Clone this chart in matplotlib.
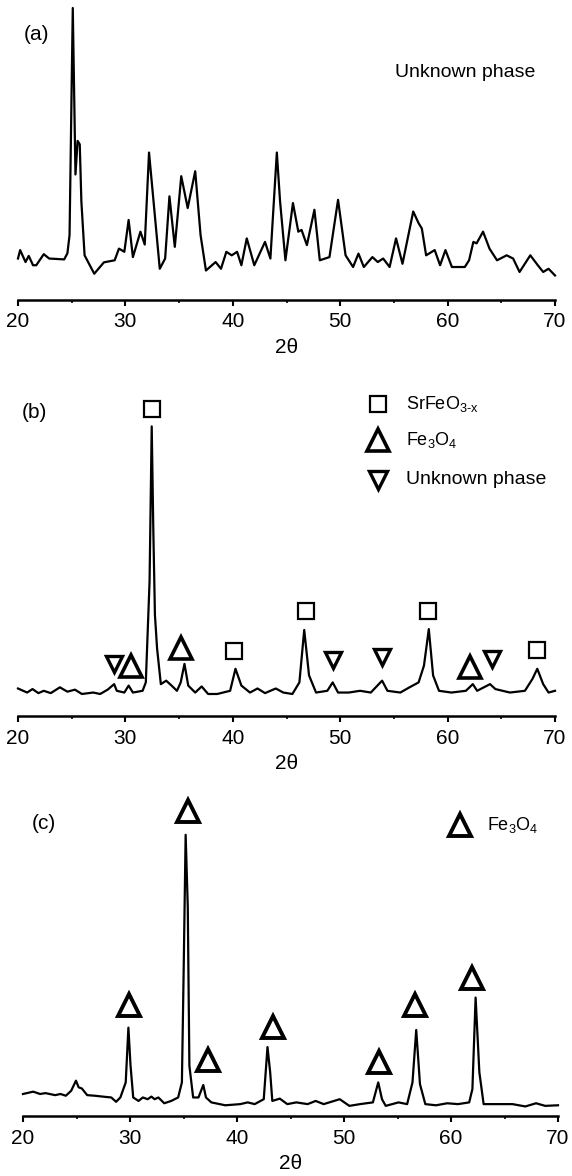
import matplotlib
matplotlib.use("Agg")
import matplotlib.pyplot as plt

plt.rcParams['font.family'] = ['Liberation Sans', 'DejaVu Sans']
plt.rcParams['mathtext.fontset'] = 'custom'
plt.rcParams['mathtext.rm'] = 'Liberation Sans'
plt.rcParams['mathtext.it'] = 'Liberation Sans:italic'

# ---------------- data ----------------
a_tt = [20.0, 20.2, 20.7, 21.0, 21.4, 21.7, 22.4, 22.9, 24.3, 24.6, 24.8, 25.1, 25.35, 25.55, 25.75,
        25.9, 26.2, 27.1, 28.0, 29.0, 29.4, 29.9, 30.3, 30.7, 31.4, 31.8, 32.2, 33.2, 33.7, 34.1,
        34.6, 35.2, 35.8, 36.5, 37.0, 37.5, 38.4, 38.9, 39.4, 39.9, 40.4, 40.8, 41.3, 42.0, 43.0,
        43.5, 44.1, 44.4, 44.9, 45.6, 46.1, 46.4, 46.9, 47.6, 48.1, 49.0, 49.8, 50.5, 51.2, 51.7,
        52.2, 53.0, 53.5, 54.0, 54.6, 55.2, 55.8, 56.8, 57.3, 57.6, 58.0, 58.8, 59.3, 59.8, 60.4,
        61.6, 62.0, 62.4, 62.7, 63.3, 63.9, 64.6, 65.5, 66.1, 66.7, 67.7, 68.4, 68.9, 69.4, 70.0]
a_int = [14.2, 17.1, 13.0, 15.1, 11.9, 11.9, 15.7, 14.2, 13.9, 16.0, 22.2, 100.0, 43.0, 54.5, 53.3,
         33.8, 15.3, 9.0, 12.9, 13.6, 17.6, 16.5, 27.4, 14.7, 23.4, 19.0, 50.5, 10.7, 14.2, 35.5,
         18.2, 42.4, 31.5, 44.1, 22.2, 10.1, 13.0, 10.7, 16.5, 15.3, 16.5, 11.9, 21.1, 11.9, 19.9,
         14.2, 50.5, 33.8, 13.6, 33.2, 23.4, 24.0, 18.8, 30.9, 13.6, 14.7, 34.3, 15.3, 11.3, 15.9,
         11.3, 14.7, 13.0, 14.2, 11.3, 21.1, 12.4, 30.3, 26.3, 24.5, 15.3, 17.1, 11.9, 17.1, 11.3,
         11.3, 13.6, 19.9, 19.4, 23.4, 17.6, 13.6, 15.3, 14.2, 9.6, 15.3, 11.9, 9.6, 10.7, 8.4]

b_tt = [20.0, 20.85, 21.35, 21.9, 22.4, 23.05, 23.9, 24.6, 25.3, 25.95, 27.0, 27.65, 28.35, 28.95,
        29.2, 29.9, 30.3, 30.7, 31.6, 31.9, 32.25, 32.45, 32.6, 32.75, 32.95, 33.3, 33.8, 34.3,
        34.8, 35.15, 35.5, 35.85, 36.5, 37.1, 37.7, 38.55, 39.75, 40.25, 40.8, 41.6, 42.3, 43.0,
        44.0, 44.7, 45.55, 46.2, 46.65, 47.1, 47.75, 48.8, 49.3, 49.8, 50.8, 51.85, 52.85, 53.9,
        54.4, 55.6, 56.45, 57.3, 57.8, 58.25, 58.65, 59.2, 60.35, 61.7, 62.35, 62.75, 63.95, 64.45,
        65.8, 67.2, 67.9, 68.35, 68.9, 69.4, 70.0]
b_int = [9.5, 8.1, 9.3, 7.9, 8.7, 7.9, 9.9, 8.4, 9.1, 7.6, 8.1, 7.6, 9.1, 11.0,
         8.7, 8.1, 10.5, 8.1, 8.7, 11.6, 46.5, 100.0, 64.0, 34.9, 23.3, 11.0, 12.2, 10.5,
         8.7, 11.6, 18.0, 10.5, 8.1, 10.2, 7.6, 7.6, 8.7, 16.3, 10.5, 8.1, 9.5, 7.9,
         9.5, 8.1, 7.6, 11.6, 29.7, 14.0, 8.1, 8.7, 11.6, 8.1, 8.1, 8.7, 8.1, 12.2,
         8.7, 8.1, 9.9, 11.6, 17.4, 30.0, 14.0, 8.7, 8.1, 8.7, 11.0, 8.7, 11.0, 9.3,
         8.1, 8.7, 12.8, 16.3, 11.0, 8.1, 8.7]

c_tt = [20.0, 20.95, 21.6, 22.1, 23.0, 23.5, 24.0, 24.5, 24.95, 25.2, 25.5, 26.0, 26.7, 27.7,
        28.25, 28.7, 29.1, 29.6, 29.85, 30.05, 30.3, 30.8, 31.2, 31.65, 32.0, 32.3, 32.65, 33.2,
        33.85, 34.5, 34.85, 35.0, 35.2, 35.4, 35.55, 35.9, 36.4, 36.85, 37.1, 37.6, 38.9, 40.3,
        41.0, 41.65, 42.5, 42.85, 43.1, 43.3, 44.0, 44.7, 45.55, 46.6, 47.35, 48.1, 49.6, 50.5,
        51.5, 52.7, 53.2, 53.55, 53.9, 55.1, 55.9, 56.4, 56.75, 57.1, 57.6, 58.6, 59.65, 60.65,
        61.7, 62.0, 62.3, 62.65, 63.05, 64.4, 65.75, 66.95, 67.95, 68.8, 70.0]
c_int = [7.6, 8.4, 7.6, 7.9, 7.2, 7.6, 7.0, 8.7, 12.2, 9.9, 9.5, 7.2, 7.0, 6.6,
         6.4, 4.9, 6.4, 11.6, 30.5, 17.4, 6.4, 5.2, 6.4, 5.8, 6.7, 5.8, 6.4, 4.4,
         5.2, 6.4, 11.6, 46.5, 97.1, 72.1, 17.4, 6.4, 6.4, 10.7, 6.4, 4.7, 3.7, 4.1,
         4.7, 4.1, 5.8, 23.8, 15.1, 5.2, 6.0, 4.1, 4.7, 4.1, 5.2, 4.1, 5.8, 3.5,
         4.1, 4.7, 11.6, 5.8, 3.5, 4.7, 4.1, 11.6, 29.7, 11.0, 4.1, 3.7, 4.4, 4.1,
         4.7, 9.3, 40.9, 15.1, 4.1, 4.1, 4.1, 3.3, 4.4, 3.5, 3.7]

# phase markers (2theta, marker height)
b_sq_tt = [32.5, 40.1, 46.8, 58.15, 68.3]
b_sq_h = [106.0, 22.3, 36.3, 36.3, 22.7]
b_up_tt = [30.55, 35.2, 62.05]
b_up_h = [17.4, 23.5, 16.9]
b_dn_tt = [28.9, 49.3, 53.9, 64.1]
b_dn_h = [18.0, 19.5, 20.3, 19.8]

c_up_tt = [29.95, 35.4, 37.3, 43.35, 53.3, 56.6, 61.95]
c_up_h = [38.4, 105.2, 19.2, 30.8, 18.6, 38.4, 47.7]

xticks = [20, 30, 40, 50, 60, 70]
xlabel = "2θ"

# ---------------- figure ----------------
W, H = 572, 1176
fig = plt.figure(figsize=(W / 100, H / 100), dpi=100)


def make_ax(left, right, bottom_px, top_px):
    return fig.add_axes([left / W, 1 - bottom_px / H, (right - left) / W, (bottom_px - top_px) / H])


def style(ax, ytop):
    ax.set_xlim(20, 70)
    ax.set_ylim(0, ytop)
    for s in ('left', 'right', 'top'):
        ax.spines[s].set_visible(False)
    ax.spines['bottom'].set_linewidth(1.8)
    ax.set_yticks([])
    ax.set_xticks(xticks)
    ax.set_xticks(range(25, 70, 10), minor=True)
    ax.tick_params(axis='x', which='major', direction='out', length=4, width=1.5,
                   labelsize=15, pad=5)
    ax.tick_params(axis='x', which='minor', direction='out', length=2.5, width=1.2)
    ax.set_xlabel(xlabel, fontsize=15, labelpad=5)
    ax.patch.set_alpha(0)


lw = 1.6
# (a)
axa = make_ax(18, 555, 300, 300 - 2.92 * 100)
style(axa, 100)
axa.plot(a_tt, a_int, color='black', lw=lw, clip_on=False)
axa.text(20.5, 91, "(a)", fontsize=15, va='center', ha='left')
axa.text(55.1, 78, "Unknown phase", fontsize=14, va='center', ha='left')

# (b)
u = 2.896
axb = make_ax(18, 555, 716, 716 - u * 112)
style(axb, 112)
axb.plot(b_tt, b_int, color='black', lw=lw, clip_on=False)
mk_sq = dict(marker='s', ls='none', mfc='white', mec='black', ms=11, mew=1.6, clip_on=False)
mk_up = dict(marker='^', ls='none', mfc='white', mec='black', ms=16, mew=2.6, clip_on=False)
mk_dn = dict(marker='v', ls='none', mfc='white', mec='black', ms=11.5, mew=2.4, clip_on=False)
axb.plot(b_sq_tt, b_sq_h, **mk_sq)
axb.plot(b_up_tt, b_up_h, **mk_up)
axb.plot(b_dn_tt, b_dn_h, **mk_dn)
axb.text(20.35, 104.7, "(b)", fontsize=15, va='center', ha='left')
# legend
axb.plot([53.55], [107.6], **mk_sq)
axb.plot([53.55], [95.3], **mk_up)
axb.plot([53.55], [81.6], **dict(mk_dn, ms=13.5))
axb.text(56.1, 107.6, r"$\mathregular{SrFeO_{3\text{-}x}}$", fontsize=13, va='center', ha='left')
axb.text(56.1, 95.3, r"$\mathregular{Fe_3O_4}$", fontsize=13, va='center', ha='left')
axb.text(56.1, 81.6, "Unknown phase", fontsize=14, va='center', ha='left')

# (c)
axc = make_ax(23, 558, 1116, 1116 - u * 112)
style(axc, 112)
axc.plot(c_tt, c_int, color='black', lw=lw, clip_on=False)
axc.plot(c_up_tt, c_up_h, **dict(mk_up, ms=16.5, mew=2.8))
axc.text(20.8, 101, "(c)", fontsize=15, va='center', ha='left')
axc.plot([60.8], [100.6], **dict(mk_up, ms=16.5, mew=2.8))
axc.text(63.4, 100.6, r"$\mathregular{Fe_3O_4}$", fontsize=13, va='center', ha='left')

fig.savefig("out.png", dpi=100)
